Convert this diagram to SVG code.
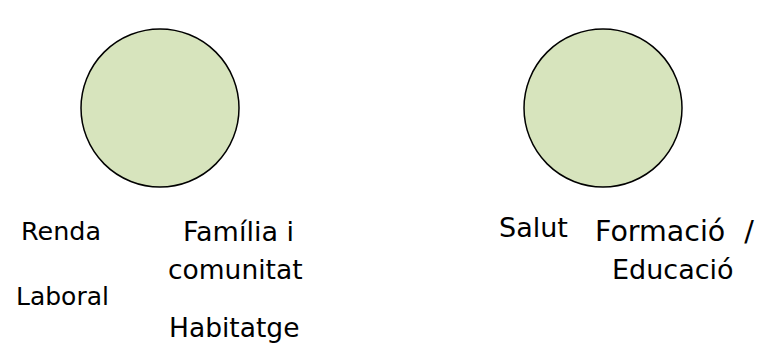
<svg xmlns="http://www.w3.org/2000/svg" width="768" height="346" viewBox="0 0 768 346">
<style>
.c{fill:#d7e4bd;stroke:#000;stroke-width:1.5}
.t{font-family:"DejaVu Sans",Verdana,sans-serif;fill:#000}
.s1{font-size:25px}
.s2{font-size:26.5px}
.s3{font-size:27px}
.s4{font-size:28.5px}
</style>
<rect width="768" height="346" fill="#fff"/>
<g id="node-left"><circle class="c" cx="160" cy="108" r="79"/></g>
<g id="node-right"><circle class="c" cx="603" cy="108" r="79"/></g>
<g id="connectors"/>
<g id="labels">
<text class="t s1" x="21" y="240" textLength="80" lengthAdjust="spacingAndGlyphs">Renda</text>
<text class="t s3" x="183" y="241">Família i</text>
<text class="t s2" x="168" y="279">comunitat</text>
<text class="t s1" x="16" y="305">Laboral</text>
<text class="t s2" x="169" y="337">Habitatge</text>
<text class="t s3" x="499" y="237">Salut</text>
<text class="t s4" x="595" y="241">Formació<tspan dx="10"> /</tspan></text>
<text class="t s3" x="612" y="279">Educació</text>
</g>
</svg>
